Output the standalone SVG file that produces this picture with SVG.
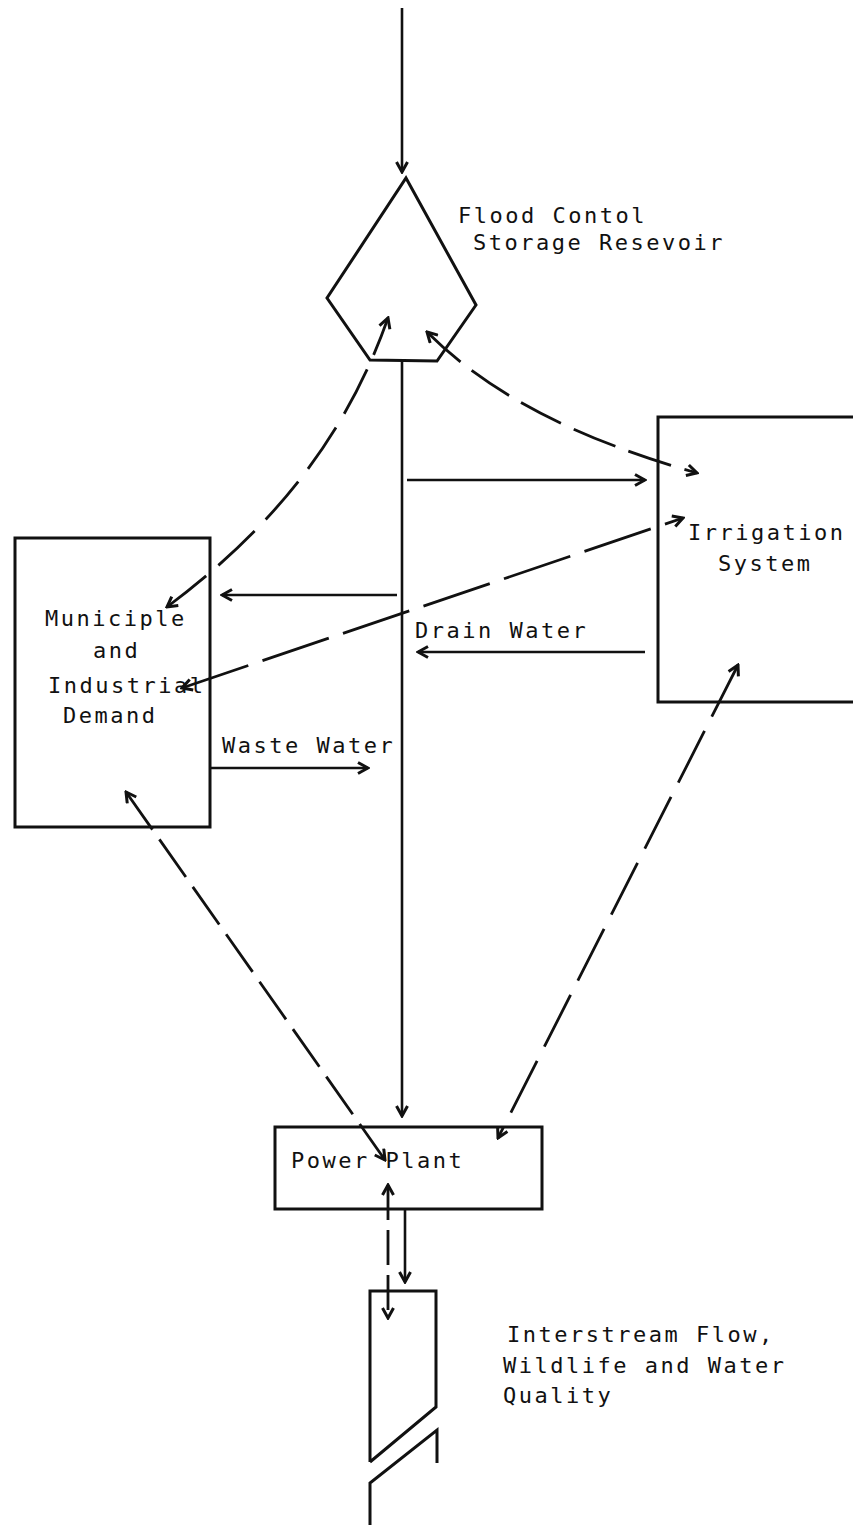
<svg xmlns="http://www.w3.org/2000/svg" width="853" height="1525" viewBox="0 0 853 1525">
<style>
  .shape { fill: none; stroke: #111; stroke-width: 3; stroke-linejoin: miter; }
  .flow { fill: none; stroke: #111; stroke-width: 2.6; }
  .dash { fill: none; stroke: #111; stroke-width: 2.8; }
  .lbl { font-family: "DejaVu Sans Mono", "Liberation Mono", monospace; font-size: 22px; letter-spacing: 2.5px; fill: #111; }
</style>
<defs>
  <marker id="ah" viewBox="-12 -7 14 14" markerWidth="14" markerHeight="14" refX="0" refY="0" markerUnits="userSpaceOnUse" orient="auto-start-reverse">
    <path d="M-10,-5.5 L0,0 L-10,5.5" fill="none" stroke="#111" stroke-width="3" stroke-dasharray="none" stroke-linejoin="miter"/>
  </marker>
</defs>

<g id="connectors">
  <!-- solid flows -->
  <line class="flow" x1="402" y1="8" x2="402" y2="172" marker-end="url(#ah)"/>
  <line class="flow" x1="402" y1="361" x2="402" y2="1116" marker-end="url(#ah)"/>
  <line class="flow" x1="407" y1="480" x2="645" y2="480" marker-end="url(#ah)"/>
  <line class="flow" x1="397" y1="595" x2="222" y2="595" marker-end="url(#ah)"/>
  <line class="flow" x1="645" y1="652" x2="418" y2="652" marker-end="url(#ah)"/>
  <line class="flow" x1="210" y1="768" x2="368" y2="768" marker-end="url(#ah)"/>
  <line class="flow" x1="405" y1="1210" x2="405" y2="1282" marker-end="url(#ah)"/>
  <!-- dashed information links -->
  <path class="dash" d="M167,607 C270,530 345,440 388,318" stroke-dasharray="50 16" marker-start="url(#ah)" marker-end="url(#ah)"/>
  <path class="dash" d="M427,332 C490,395 580,440 697,473" stroke-dasharray="45 14" marker-start="url(#ah)" marker-end="url(#ah)"/>
  <line class="dash" x1="182" y1="688" x2="683" y2="518" stroke-dasharray="70 15" marker-start="url(#ah)" marker-end="url(#ah)"/>
  <line class="dash" x1="126" y1="792" x2="385" y2="1160" stroke-dasharray="46 12" marker-start="url(#ah)" marker-end="url(#ah)"/>
  <line class="dash" x1="738" y1="665" x2="498" y2="1138" stroke-dasharray="58 16" marker-start="url(#ah)" marker-end="url(#ah)"/>
  <line class="dash" x1="388" y1="1185" x2="388" y2="1318" stroke-dasharray="35 10" marker-start="url(#ah)" marker-end="url(#ah)"/>
</g>

<g id="reservoir">
  <polygon class="shape" points="406,178 476,305 437,361 370,360 327,298"/>
  <text class="lbl" x="458" y="223">Flood Contol</text>
  <text class="lbl" x="473" y="250">Storage Resevoir</text>
</g>

<g id="irrigation">
  <rect class="shape" x="658" y="417" width="200" height="285"/>
  <text class="lbl" x="688" y="540">Irrigation</text>
  <text class="lbl" x="718" y="571">System</text>
</g>

<g id="municipal">
  <rect class="shape" x="15" y="538" width="195" height="289"/>
  <text class="lbl" x="45" y="626">Municiple</text>
  <text class="lbl" x="93" y="658">and</text>
  <text class="lbl" x="48" y="693">Industrial</text>
  <text class="lbl" x="63" y="723">Demand</text>
</g>

<g id="power-plant">
  <rect class="shape" x="275" y="1127" width="267" height="82"/>
  <text class="lbl" x="291" y="1168">Power Plant</text>
</g>

<g id="instream">
  <path class="shape" d="M370,1462 V1291 H436 V1407 L370,1462"/>
  <path class="shape" d="M370,1525 V1483 L437,1430 V1463"/>
  <text class="lbl" x="507" y="1342">Interstream Flow,</text>
  <text class="lbl" x="503" y="1373">Wildlife and Water</text>
  <text class="lbl" x="503" y="1403">Quality</text>
</g>

<g id="labels">
  <text class="lbl" x="415" y="638">Drain Water</text>
  <text class="lbl" x="222" y="753">Waste Water</text>
</g>
</svg>
